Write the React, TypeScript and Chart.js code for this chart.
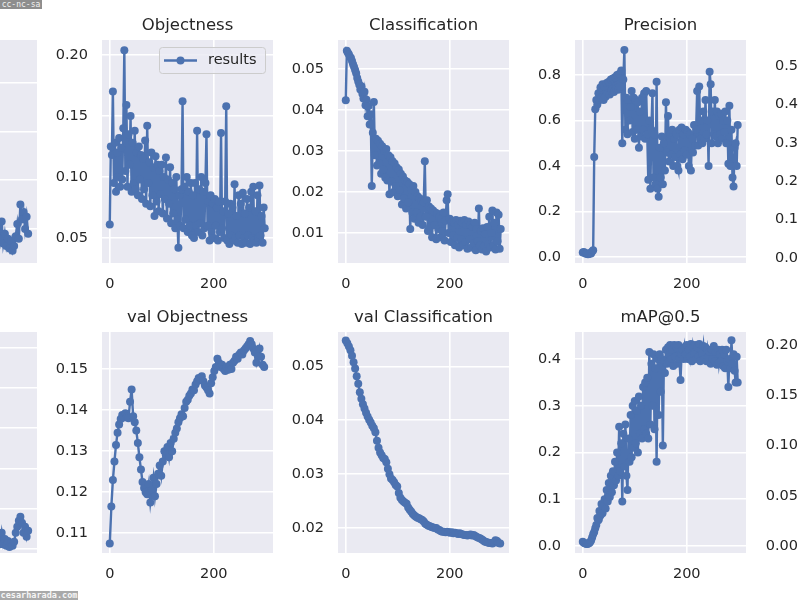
import React, { useEffect, useRef } from "react";
import { Chart, registerables } from "chart.js";

Chart.register(...registerables);

// ---------------- data ----------------
// epochs sampled every 2 (noisy training curves)
const EPOCHS_2 = [
  0, 2, 4, 6, 8, 10, 12, 14, 16, 18,
  20, 22, 24, 26, 28, 30, 32, 34, 36, 38,
  40, 42, 44, 46, 48, 50, 52, 54, 56, 58,
  60, 62, 64, 66, 68, 70, 72, 74, 76, 78,
  80, 82, 84, 86, 88, 90, 92, 94, 96, 98,
  100, 102, 104, 106, 108, 110, 112, 114, 116, 118,
  120, 122, 124, 126, 128, 130, 132, 134, 136, 138,
  140, 142, 144, 146, 148, 150, 152, 154, 156, 158,
  160, 162, 164, 166, 168, 170, 172, 174, 176, 178,
  180, 182, 184, 186, 188, 190, 192, 194, 196, 198,
  200, 202, 204, 206, 208, 210, 212, 214, 216, 218,
  220, 222, 224, 226, 228, 230, 232, 234, 236, 238,
  240, 242, 244, 246, 248, 250, 252, 254, 256, 258,
  260, 262, 264, 266, 268, 270, 272, 274, 276, 278,
  280, 282, 284, 286, 288, 290, 292, 294, 296, 298,
];

// epochs sampled every 3 (smooth validation curves)
const EPOCHS_3 = [
  0, 3, 6, 9, 12, 15, 18, 21, 24, 27,
  30, 33, 36, 39, 42, 45, 48, 51, 54, 57,
  60, 63, 66, 69, 72, 75, 78, 81, 84, 87,
  90, 93, 96, 99, 102, 105, 108, 111, 114, 117,
  120, 123, 126, 129, 132, 135, 138, 141, 144, 147,
  150, 153, 156, 159, 162, 165, 168, 171, 174, 177,
  180, 183, 186, 189, 192, 195, 198, 201, 204, 207,
  210, 213, 216, 219, 222, 225, 228, 231, 234, 237,
  240, 243, 246, 249, 252, 255, 258, 261, 264, 267,
  270, 273, 276, 279, 282, 285, 288, 291, 294, 297,
];

// the last epochs of the two panels cut off at the left edge
const EPOCHS_TAIL = [
  234, 237, 240, 243, 246, 249, 252, 255, 258, 261, 264,
  267, 270, 273, 276, 279, 282, 285, 288, 291, 294, 297,
];

const X_TICKS = ["0", "200"];

const BOX_TAIL = [
  0.038, 0.034, 0.041, 0.036, 0.043, 0.034, 0.038, 0.033, 0.036, 0.032, 0.035,
  0.031, 0.033, 0.037, 0.042, 0.036, 0.050, 0.044, 0.047, 0.040, 0.045, 0.038,
];
const BOX_TICKS = ["0.04", "0.06", "0.08", "0.10"];

const OBJECTNESS = [
  0.061, 0.125, 0.118, 0.170, 0.095, 0.128, 0.088, 0.120, 0.100, 0.132,
  0.092, 0.124, 0.098, 0.140, 0.204, 0.105, 0.159, 0.092, 0.135, 0.110,
  0.150, 0.088, 0.128, 0.095, 0.138, 0.090, 0.120, 0.085, 0.125, 0.098,
  0.118, 0.082, 0.115, 0.090, 0.130, 0.078, 0.142, 0.095, 0.112, 0.076,
  0.120, 0.085, 0.108, 0.068, 0.117, 0.080, 0.110, 0.072, 0.105, 0.086,
  0.110, 0.070, 0.100, 0.082, 0.116, 0.066, 0.098, 0.078, 0.108, 0.062,
  0.095, 0.070, 0.090, 0.058, 0.100, 0.065, 0.042, 0.085, 0.060, 0.090,
  0.162, 0.058, 0.092, 0.065, 0.100, 0.055, 0.088, 0.060, 0.095, 0.052,
  0.085, 0.050, 0.095, 0.060, 0.138, 0.055, 0.090, 0.062, 0.100, 0.052,
  0.088, 0.058, 0.095, 0.135, 0.060, 0.080, 0.048, 0.085, 0.055, 0.078,
  0.050, 0.082, 0.060, 0.075, 0.048, 0.080, 0.055, 0.136, 0.058, 0.072,
  0.050, 0.080, 0.158, 0.048, 0.070, 0.045, 0.078, 0.052, 0.075, 0.048,
  0.094, 0.050, 0.068, 0.046, 0.085, 0.052, 0.078, 0.045, 0.087, 0.050,
  0.070, 0.046, 0.082, 0.052, 0.075, 0.045, 0.088, 0.050, 0.092, 0.048,
  0.072, 0.046, 0.085, 0.050, 0.093, 0.052, 0.068, 0.046, 0.075, 0.058,
];
const OBJ_TICKS = ["0.05", "0.10", "0.15", "0.20"];

const CLASSIFICATION = [
  0.0424, 0.0545, 0.0540, 0.0536, 0.0530, 0.0527, 0.0520, 0.0512, 0.0505, 0.0498,
  0.0490, 0.0478, 0.0470, 0.0462, 0.0450, 0.0458, 0.0440, 0.0428, 0.0445, 0.0412,
  0.0425, 0.0385, 0.0410, 0.0365, 0.0390, 0.0215, 0.0345, 0.0420, 0.0290, 0.0330,
  0.0265, 0.0325, 0.0270, 0.0318, 0.0245, 0.0312, 0.0255, 0.0300, 0.0235, 0.0305,
  0.0228, 0.0290, 0.0195, 0.0285, 0.0225, 0.0275, 0.0200, 0.0270, 0.0215, 0.0260,
  0.0190, 0.0255, 0.0205, 0.0245, 0.0170, 0.0238, 0.0185, 0.0228, 0.0160, 0.0225,
  0.0175, 0.0220, 0.0110, 0.0205, 0.0150, 0.0215, 0.0135, 0.0200, 0.0150, 0.0190,
  0.0125, 0.0185, 0.0140, 0.0178, 0.0120, 0.0175, 0.0275, 0.0140, 0.0180, 0.0105,
  0.0165, 0.0115, 0.0160, 0.0090, 0.0155, 0.0120, 0.0150, 0.0085, 0.0148, 0.0110,
  0.0140, 0.0090, 0.0135, 0.0105, 0.0150, 0.0082, 0.0130, 0.0180, 0.0195, 0.0100,
  0.0135, 0.0078, 0.0128, 0.0095, 0.0125, 0.0070, 0.0132, 0.0088, 0.0120, 0.0065,
  0.0130, 0.0085, 0.0125, 0.0070, 0.0132, 0.0078, 0.0120, 0.0062, 0.0128, 0.0085,
  0.0120, 0.0065, 0.0115, 0.0075, 0.0125, 0.0058, 0.0110, 0.0080, 0.0160, 0.0070,
  0.0105, 0.0060, 0.0112, 0.0068, 0.0098, 0.0055, 0.0115, 0.0072, 0.0140, 0.0065,
  0.0100, 0.0155, 0.0070, 0.0125, 0.0060, 0.0150, 0.0080, 0.0145, 0.0062, 0.0110,
];
const CLS_TICKS = ["0.01", "0.02", "0.03", "0.04", "0.05"];

const PRECISION = [
  0.020, 0.022, 0.018, 0.015, 0.016, 0.012, 0.014, 0.018, 0.016, 0.025,
  0.030, 0.440, 0.650, 0.690, 0.670, 0.720, 0.690, 0.745, 0.700, 0.760,
  0.690, 0.750, 0.705, 0.765, 0.720, 0.770, 0.715, 0.780, 0.730, 0.785,
  0.725, 0.790, 0.740, 0.800, 0.735, 0.805, 0.750, 0.820, 0.500, 0.780,
  0.910, 0.560, 0.700, 0.540, 0.690, 0.600, 0.660, 0.730, 0.550, 0.700,
  0.520, 0.690, 0.560, 0.680, 0.480, 0.640, 0.530, 0.700, 0.560, 0.720,
  0.520, 0.730, 0.540, 0.340, 0.600, 0.300, 0.560, 0.720, 0.350, 0.540,
  0.320, 0.770, 0.300, 0.265, 0.480, 0.350, 0.530, 0.320, 0.500, 0.380,
  0.680, 0.460, 0.620, 0.420, 0.540, 0.450, 0.560, 0.400, 0.520, 0.440,
  0.540, 0.400, 0.380, 0.560, 0.450, 0.570, 0.430, 0.540, 0.470, 0.560,
  0.450, 0.550, 0.400, 0.540, 0.380, 0.520, 0.460, 0.580, 0.490, 0.560,
  0.730, 0.490, 0.750, 0.520, 0.600, 0.500, 0.640, 0.520, 0.690, 0.540,
  0.600, 0.400, 0.814, 0.760, 0.500, 0.640, 0.540, 0.690, 0.530, 0.640,
  0.500, 0.620, 0.540, 0.630, 0.520, 0.600, 0.550, 0.640, 0.500, 0.600,
  0.410, 0.665, 0.400, 0.560, 0.350, 0.310, 0.480, 0.500, 0.400, 0.580,
];
const PREC_TICKS = ["0.0", "0.2", "0.4", "0.6", "0.8"];

const RECALL_TICKS = ["0.0", "0.1", "0.2", "0.3", "0.4", "0.5"];

const VAL_BOX_TAIL = [
  0.0430, 0.0425, 0.0420, 0.0412, 0.0440, 0.0412, 0.0425, 0.0408, 0.0420, 0.0405, 0.0415,
  0.0408, 0.0418, 0.0440, 0.0455, 0.0470, 0.0480, 0.0465, 0.0440, 0.0455, 0.0430, 0.0445,
];
const VAL_BOX_TICKS = ["0.04", "0.05", "0.06", "0.07", "0.08", "0.09"];

const VAL_OBJECTNESS = [
  0.1075, 0.1165, 0.1230, 0.1275, 0.1315, 0.1345, 0.1365, 0.1378, 0.1388, 0.1382,
  0.1392, 0.1385, 0.1380, 0.1420, 0.1450, 0.1385, 0.1370, 0.1350, 0.1320, 0.1285,
  0.1255, 0.1225, 0.1210, 0.1200, 0.1195, 0.1220, 0.1175, 0.1205, 0.1235, 0.1190,
  0.1220, 0.1245, 0.1265, 0.1240, 0.1275, 0.1300, 0.1290, 0.1310, 0.1285, 0.1320,
  0.1300, 0.1330, 0.1345, 0.1355, 0.1370, 0.1380, 0.1390, 0.1385, 0.1405, 0.1420,
  0.1425, 0.1435, 0.1440, 0.1450, 0.1448, 0.1462, 0.1470, 0.1478, 0.1475, 0.1482,
  0.1470, 0.1460, 0.1455, 0.1448, 0.1440, 0.1465, 0.1480, 0.1495, 0.1505, 0.1525,
  0.1515, 0.1505, 0.1510, 0.1500, 0.1495, 0.1505, 0.1498, 0.1510, 0.1500, 0.1515,
  0.1520, 0.1530, 0.1525, 0.1535, 0.1540, 0.1535, 0.1545, 0.1550, 0.1555, 0.1560,
  0.1568, 0.1560, 0.1550, 0.1540, 0.1515, 0.1530, 0.1550, 0.1530, 0.1510, 0.1505,
];
const VAL_OBJ_TICKS = ["0.11", "0.12", "0.13", "0.14", "0.15"];

const VAL_CLASSIFICATION = [
  0.0548, 0.0543, 0.0537, 0.0530, 0.0520, 0.0508, 0.0496, 0.0482, 0.0468, 0.0452,
  0.0440, 0.0430, 0.0422, 0.0414, 0.0407, 0.0401, 0.0396, 0.0390, 0.0385, 0.0378,
  0.0362, 0.0349, 0.0340, 0.0335, 0.0330, 0.0328, 0.0322, 0.0310, 0.0300, 0.0292,
  0.0289, 0.0285, 0.0280, 0.0277, 0.0265, 0.0256, 0.0252, 0.0249, 0.0247, 0.0245,
  0.0238, 0.0234, 0.0230, 0.0226, 0.0223, 0.0221, 0.0219, 0.0218, 0.0216, 0.0215,
  0.0212, 0.0208, 0.0206, 0.0204, 0.0203, 0.0202, 0.0201, 0.0200, 0.0200, 0.0197,
  0.0196, 0.0194, 0.0193, 0.0193, 0.0192, 0.0193, 0.0192, 0.0191, 0.0192, 0.0190,
  0.0191, 0.0190, 0.0189, 0.0190, 0.0189, 0.0188, 0.0187, 0.0187, 0.0186, 0.0187,
  0.0188, 0.0186, 0.0187, 0.0185, 0.0183, 0.0182, 0.0181, 0.0179, 0.0177, 0.0175,
  0.0174, 0.0173, 0.0172, 0.0172, 0.0171, 0.0173, 0.0177, 0.0176, 0.0172, 0.0171,
];
const VAL_CLS_TICKS = ["0.02", "0.03", "0.04", "0.05"];

const MAP50 = [
  0.009, 0.007, 0.006, 0.005, 0.004, 0.005, 0.006, 0.008, 0.012, 0.018,
  0.025, 0.030, 0.038, 0.045, 0.060, 0.055, 0.075, 0.065, 0.090, 0.070,
  0.085, 0.100, 0.080, 0.120, 0.095, 0.135, 0.105, 0.150, 0.115, 0.160,
  0.130, 0.180, 0.140, 0.200, 0.150, 0.255, 0.160, 0.220, 0.095, 0.240,
  0.170, 0.260, 0.150, 0.120, 0.230, 0.180, 0.280, 0.190, 0.300, 0.210,
  0.310, 0.220, 0.290, 0.200, 0.320, 0.240, 0.300, 0.230, 0.340, 0.250,
  0.350, 0.240, 0.360, 0.230, 0.415, 0.260, 0.390, 0.300, 0.410, 0.250,
  0.380, 0.180, 0.400, 0.280, 0.410, 0.330, 0.400, 0.215, 0.395, 0.370,
  0.420, 0.390, 0.425, 0.395, 0.430, 0.400, 0.420, 0.385, 0.430, 0.405,
  0.425, 0.390, 0.430, 0.400, 0.355, 0.410, 0.420, 0.400, 0.425, 0.410,
  0.430, 0.400, 0.420, 0.405, 0.432, 0.395, 0.425, 0.410, 0.430, 0.400,
  0.425, 0.405, 0.432, 0.395, 0.420, 0.410, 0.428, 0.400, 0.425, 0.395,
  0.420, 0.405, 0.415, 0.390, 0.420, 0.400, 0.428, 0.395, 0.415, 0.388,
  0.420, 0.392, 0.410, 0.395, 0.420, 0.385, 0.410, 0.380, 0.420, 0.395,
  0.340, 0.400, 0.380, 0.440, 0.390, 0.410, 0.375, 0.350, 0.405, 0.350,
];
const MAP50_TICKS = ["0.0", "0.1", "0.2", "0.3", "0.4"];

const MAP5095_TICKS = ["0.00", "0.05", "0.10", "0.15", "0.20"];

// ---------------- style / layout ----------------
const FONT = "'DejaVu Sans', 'Liberation Sans', sans-serif";
const INK = "#262626";
const BLUE = "#4C72B0";
const AX_BG = "#EAEAF2";
const X_MIN = -14.95;
const X_MAX = 313.95;

const COL_LEFT = [-134, 102, 338, 575, 812];
const COL_W = 171;
const ROW_TOP = [40, 332];
const ROW_H = [223, 221];
const SIDE = 60;
const HEAD = 40;
const FOOT = 40;

type PanelSpec = {
  id: string;
  title?: string;
  epochs?: number[];
  values?: number[];
  col: number;
  row: number;
  yMin: number;
  yMax: number;
  yTicks: string[];
  showY: boolean;
  showX: boolean;
  legend?: boolean;
};

const PANELS: PanelSpec[] = [
  { id: "box", col: 0, row: 0, epochs: EPOCHS_TAIL, values: BOX_TAIL, yMin: 0.026, yMax: 0.1176, yTicks: BOX_TICKS, showY: false, showX: false },
  { id: "obj", title: "Objectness", col: 1, row: 0, epochs: EPOCHS_2, values: OBJECTNESS, yMin: 0.0295, yMax: 0.2123, yTicks: OBJ_TICKS, showY: true, showX: true, legend: true },
  { id: "cls", title: "Classification", col: 2, row: 0, epochs: EPOCHS_2, values: CLASSIFICATION, yMin: 0.0027, yMax: 0.0571, yTicks: CLS_TICKS, showY: true, showX: true },
  { id: "prec", title: "Precision", col: 3, row: 0, epochs: EPOCHS_2, values: PRECISION, yMin: -0.026, yMax: 0.954, yTicks: PREC_TICKS, showY: true, showX: true },
  { id: "recall", col: 4, row: 0, yMin: -0.013, yMax: 0.568, yTicks: RECALL_TICKS, showY: true, showX: false },
  { id: "vbox", col: 0, row: 1, epochs: EPOCHS_TAIL, values: VAL_BOX_TAIL, yMin: 0.039, yMax: 0.0938, yTicks: VAL_BOX_TICKS, showY: false, showX: false },
  { id: "vobj", title: "val Objectness", col: 1, row: 1, epochs: EPOCHS_3, values: VAL_OBJECTNESS, yMin: 0.1052, yMax: 0.159, yTicks: VAL_OBJ_TICKS, showY: true, showX: true },
  { id: "vcls", title: "val Classification", col: 2, row: 1, epochs: EPOCHS_3, values: VAL_CLASSIFICATION, yMin: 0.01535, yMax: 0.0564, yTicks: VAL_CLS_TICKS, showY: true, showX: true },
  { id: "map50", title: "mAP@0.5", col: 3, row: 1, epochs: EPOCHS_2, values: MAP50, yMin: -0.015, yMax: 0.4578, yTicks: MAP50_TICKS, showY: true, showX: true },
  { id: "map5095", col: 4, row: 1, yMin: -0.007, yMax: 0.213, yTicks: MAP5095_TICKS, showY: true, showX: false },
];

const bgPlugin = {
  id: "axesBackground",
  beforeDraw(chart: any) {
    const { ctx, chartArea: a } = chart;
    ctx.save();
    ctx.fillStyle = AX_BG;
    ctx.fillRect(a.left, a.top, a.right - a.left, a.bottom - a.top);
    ctx.restore();
  },
};

const legendPlugin = {
  id: "resultsLegend",
  afterDraw(chart: any) {
    const { ctx, chartArea: a } = chart;
    const label = chart.data.datasets[0]?.label ?? "";
    const w = 106;
    const h = 26;
    const x = a.right - 8 - w;
    const y = a.top + 7;
    ctx.save();
    ctx.beginPath();
    if (typeof ctx.roundRect === "function") ctx.roundRect(x + 0.5, y + 0.5, w, h, 3);
    else ctx.rect(x + 0.5, y + 0.5, w, h);
    ctx.fillStyle = "rgba(234,234,242,0.8)";
    ctx.fill();
    ctx.strokeStyle = "#cccccc";
    ctx.lineWidth = 1;
    ctx.stroke();
    const cy = y + h / 2 + 0.5;
    ctx.strokeStyle = BLUE;
    ctx.lineWidth = 2.4;
    ctx.beginPath();
    ctx.moveTo(x + 5, cy);
    ctx.lineTo(x + 38, cy);
    ctx.stroke();
    ctx.fillStyle = BLUE;
    ctx.beginPath();
    ctx.arc(x + 21.5, cy, 4, 0, Math.PI * 2);
    ctx.fill();
    ctx.fillStyle = INK;
    ctx.font = `14.5px ${FONT}`;
    ctx.textAlign = "left";
    ctx.textBaseline = "middle";
    ctx.fillText(label, x + 49, cy);
    ctx.restore();
  },
};

function Panel({ spec }: { spec: PanelSpec }) {
  const ref = useRef<HTMLCanvasElement>(null);
  const left = COL_LEFT[spec.col] - SIDE;
  const top = ROW_TOP[spec.row] - HEAD;
  const width = COL_W + 2 * SIDE;
  const height = ROW_H[spec.row] + HEAD + FOOT;

  useEffect(() => {
    const canvas = ref.current;
    if (!canvas) return;
    const yVals = spec.yTicks.map(Number);
    const xVals = X_TICKS.map(Number);
    const points =
      spec.values && spec.epochs
        ? spec.values.map((v, i) => ({ x: spec.epochs![i], y: v }))
        : [];
    const tickFont = { family: FONT, size: 14.5 };
    const chart = new Chart(canvas, {
      type: "line",
      data: {
        datasets: points.length
          ? [
              {
                label: "results",
                data: points,
                borderColor: BLUE,
                backgroundColor: BLUE,
                borderWidth: 2.4,
                pointRadius: 4,
                pointHoverRadius: 4,
                pointBackgroundColor: BLUE,
                pointBorderColor: BLUE,
                pointBorderWidth: 0,
                tension: 0,
                fill: false,
                xAxisID: "x",
                yAxisID: "y",
              },
            ]
          : [],
      },
      options: {
        animation: false,
        responsive: false,
        maintainAspectRatio: false,
        events: [],
        layout: { padding: { top: spec.title ? 0 : HEAD, left: 0, right: 0, bottom: 0 } },
        plugins: {
          legend: { display: false },
          tooltip: { enabled: false },
          title: {
            display: !!spec.title,
            text: spec.title ?? "",
            color: INK,
            font: { family: FONT, size: 16.5, weight: "normal" },
            padding: { top: 15.8, bottom: 4.4 },
          },
        },
        scales: {
          x: {
            type: "linear",
            position: "bottom",
            min: X_MIN,
            max: X_MAX,
            bounds: "data",
            afterBuildTicks: (s: any) => {
              s.ticks = xVals.map((v) => ({ value: v }));
            },
            afterFit: (s: any) => {
              s.height = FOOT;
            },
            ticks: {
              display: spec.showX,
              autoSkip: false,
              maxRotation: 0,
              minRotation: 0,
              padding: 12.5,
              color: INK,
              font: tickFont,
              callback: (_v: any, i: number) => X_TICKS[i],
            },
            grid: { color: "#ffffff", lineWidth: 1.6, drawTicks: false },
            border: { display: false },
          },
          y: {
            type: "linear",
            position: "left",
            min: spec.yMin,
            max: spec.yMax,
            bounds: "data",
            afterBuildTicks: (s: any) => {
              s.ticks = yVals.map((v) => ({ value: v }));
            },
            afterFit: (s: any) => {
              s.width = SIDE;
            },
            ticks: {
              display: spec.showY,
              autoSkip: false,
              padding: 14,
              color: INK,
              font: tickFont,
              callback: (_v: any, i: number) => spec.yTicks[i],
            },
            grid: { color: "#ffffff", lineWidth: 1.6, drawTicks: false },
            border: { display: false },
          },
          y2: {
            type: "linear",
            position: "right",
            display: true,
            min: 0,
            max: 1,
            ticks: { display: false },
            grid: { display: false, drawTicks: false },
            border: { display: false },
            afterFit: (s: any) => {
              s.width = SIDE;
            },
          },
        },
      } as any,
      plugins: spec.legend ? [bgPlugin, legendPlugin] : [bgPlugin],
    });
    return () => chart.destroy();
  }, []);

  return (
    <canvas
      ref={ref}
      width={width}
      height={height}
      style={{ position: "absolute", left, top, width, height }}
    />
  );
}

export default function App() {
  return (
    <div
      style={{
        position: "absolute",
        left: 0,
        top: 0,
        width: 800,
        height: 600,
        overflow: "hidden",
        background: "#ffffff",
      }}
    >
      {PANELS.map((p) => (
        <Panel key={p.id} spec={p} />
      ))}
      <div
        style={{
          position: "absolute",
          left: 0,
          top: 0,
          width: 42,
          height: 9,
          background: "#8e8e8e",
          color: "#f2f2f2",
          fontFamily: "'DejaVu Sans Mono', monospace",
          fontSize: 8,
          lineHeight: "9px",
          textAlign: "center",
          overflow: "hidden",
        }}
      >
        cc-nc-sa
      </div>
      <div
        style={{
          position: "absolute",
          left: 0,
          top: 591,
          width: 78,
          height: 9,
          background: "#a9a9a9",
          color: "#f6f6f6",
          fontFamily: "'DejaVu Sans Mono', monospace",
          fontWeight: "bold",
          fontSize: 8.5,
          lineHeight: "9px",
          textAlign: "center",
          overflow: "hidden",
        }}
      >
        cesarharada.com
      </div>
    </div>
  );
}
